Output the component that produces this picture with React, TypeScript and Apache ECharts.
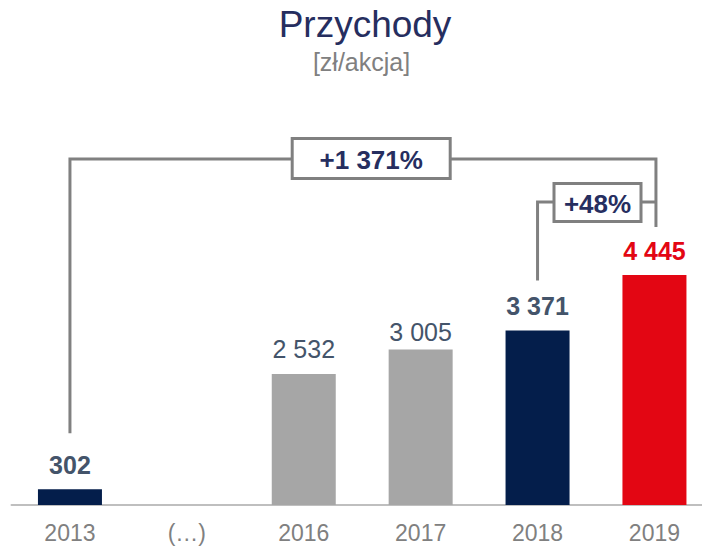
import React, { useEffect, useRef } from "react";
import * as echarts from "echarts";

const titleText = "Przychody";
const subtitleText = "[zł/akcja]";
const categories = ["2013", "(…)", "2016", "2017", "2018", "2019"];
const values: (number | null)[] = [302, null, 2532, 3005, 3371, 4445];
const barColors = ["#041E4B", "#041E4B", "#A6A6A6", "#A6A6A6", "#041E4B", "#E30613"];
const labelColors = ["#44546A", "#44546A", "#44546A", "#44546A", "#44546A", "#E30613"];
const labelBold = [true, false, false, false, true, true];
const labelGap = [12, 12, 12, 5, 12, 12];
const growthLabels = ["+1 371%", "+48%"];

const FONT = "'Liberation Sans', Arial, sans-serif";
const NAVY = "#262E5F";
const LINE = "#808080";

const fmt = (v: number) => String(v).replace(/\B(?=(\d{3})+(?!\d))/g, " ");

export default function App() {
  const ref = useRef<HTMLDivElement>(null);
  useEffect(() => {
    document.body.style.margin = "0";
    if (!ref.current) return;
    const chart = echarts.init(ref.current, undefined, { renderer: "svg" });
    const data = values.map((v, i) => ({
      value: v,
      itemStyle: { color: barColors[i] },
      label: {
        color: labelColors[i],
        fontWeight: labelBold[i] ? "bold" : "normal",
        distance: labelGap[i],
      },
    }));
    chart.setOption({
      animation: false,
      grid: { left: 11.5, width: 701.4, top: 246.3, height: 258.7 },
      xAxis: {
        type: "category",
        data: categories,
        axisTick: { show: false },
        axisLine: { lineStyle: { color: "#BFBFBF", width: 2 } },
        axisLabel: { color: "#808080", fontSize: 23, fontFamily: FONT, margin: 16 },
      },
      yAxis: { type: "value", min: 0, max: 5000, show: false, splitLine: { show: false } },
      series: [
        {
          type: "bar",
          data,
          barWidth: 64,
          label: {
            show: true,
            position: "top",
            fontSize: 25,
            fontFamily: FONT,
            formatter: (p: any) => fmt(p.value),
          },
        },
      ],
    });

    const px = (i: number) =>
      chart.convertToPixel({ gridIndex: 0 }, [i, values[i] ?? 0]) as number[];
    const a = px(0);
    const b = px(4);
    const c = px(5);
    const bigY = 159;
    const smallY = 202;
    const bigCx = (a[0] + c[0]) / 2 + 9;
    const smallCx = (b[0] + c[0]) / 2 + 1.5;
    const lineStyle = { stroke: LINE, lineWidth: 3, fill: null };
    chart.setOption({
      graphic: [
        {
          type: "polyline",
          shape: { points: [[a[0], a[1] - 56], [a[0], bigY], [c[0] + 1.5, bigY], [c[0] + 1.5, c[1] - 48]] },
          style: lineStyle,
        },
        {
          type: "polyline",
          shape: { points: [[b[0], b[1] - 50], [b[0], smallY], [c[0] + 1.5, smallY]] },
          style: lineStyle,
        },
        {
          type: "rect",
          shape: { x: bigCx - 79, y: 138.5, width: 158, height: 40 },
          style: { fill: "#fff", stroke: LINE, lineWidth: 3 },
        },
        {
          type: "rect",
          shape: { x: smallCx - 43.5, y: 183.5, width: 87, height: 38 },
          style: { fill: "#fff", stroke: LINE, lineWidth: 3 },
        },
        {
          type: "text",
          x: bigCx,
          y: 160,
          style: {
            text: growthLabels[0], fill: NAVY, font: `bold 26px ${FONT}`,
            textAlign: "center", textVerticalAlign: "middle",
          },
        },
        {
          type: "text",
          x: smallCx,
          y: 204,
          style: {
            text: growthLabels[1], fill: NAVY, font: `bold 26px ${FONT}`,
            textAlign: "center", textVerticalAlign: "middle",
          },
        },
        {
          type: "text",
          x: 365,
          y: 24,
          style: {
            text: titleText, fill: NAVY, font: `37px ${FONT}`,
            textAlign: "center", textVerticalAlign: "middle",
          },
        },
        {
          type: "text",
          x: 361.5,
          y: 62,
          style: {
            text: subtitleText, fill: "#808080", font: `25px ${FONT}`,
            textAlign: "center", textVerticalAlign: "middle",
          },
        },
      ],
    });
    return () => chart.dispose();
  }, []);
  return (
    <div style={{ width: 702, height: 549, overflow: "hidden" }}>
      <div ref={ref} style={{ width: 730, height: 549 }} />
    </div>
  );
}
